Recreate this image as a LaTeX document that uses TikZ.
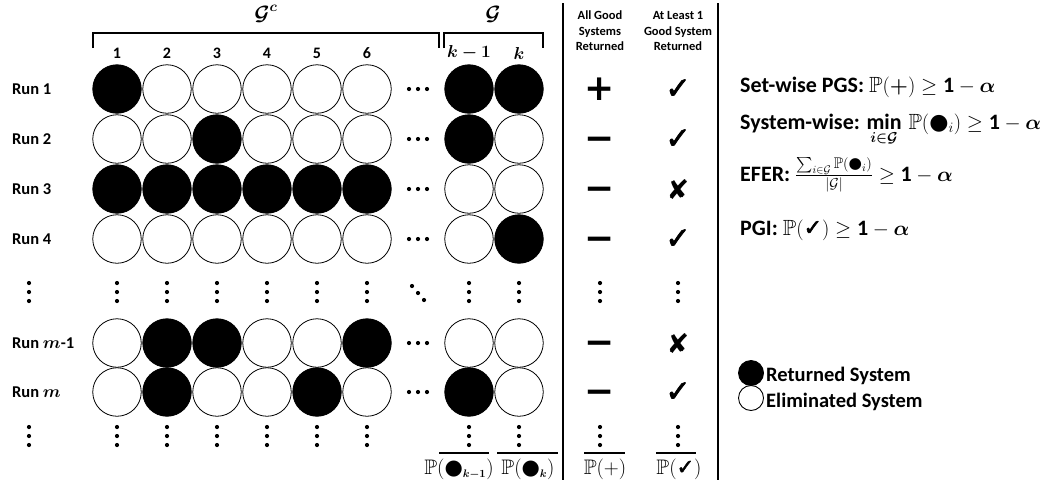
\documentclass[tikz,border=0pt]{standalone}
\usepackage{amsmath,amssymb,bm}
\usepackage{fontspec}
\setmainfont{Carlito}
\newfontfamily\djv{DejaVu Sans}
\newfontfamily\djvfb[FakeBold=2.5]{DejaVu Sans}
\newcommand\blob{\text{\djv ●}}
\newcommand\chk{{\djvfb ✓}}
\newcommand\crs{{\djv ✘}}
\def\colx{{117,167,217,267,317,367,469,519}}
\tikzset{
  circ/.style={circle, draw, line width=0.8pt, minimum size=48.5pt, inner sep=0pt},
  lab/.style={font=\fontsize{16.5}{18}\selectfont\bfseries, anchor=west, inner sep=0pt},
  num/.style={font=\fontsize{16}{18}\selectfont\bfseries, inner sep=0pt},
  hdr/.style={font=\fontsize{12.5}{15.5}\selectfont\bfseries, align=center, inner sep=0pt},
  pm/.style={font=\djv\bfseries\fontsize{36}{36}\selectfont, inner sep=0pt},
  mn/.style={pm, yshift=-5pt},
  ck/.style={font=\fontsize{30}{30}\selectfont, inner sep=0pt},
  xk/.style={font=\fontsize{27}{27}\selectfont, inner sep=0pt},
  rt/.style={font=\fontsize{22}{24}\selectfont\bfseries, anchor=base west, inner sep=0pt},
  bl/.style={font=\fontsize{21}{23}\selectfont, inner sep=0pt},
  brk/.style={line width=2.5pt},
  sep/.style={line width=2pt},
  ovl/.style={line width=1.8pt},
  gl/.style={font=\fontsize{22}{24}\selectfont, inner sep=0pt},
  lgc/.style={circle, draw, line width=0.9pt, minimum size=25pt, inner sep=0pt},
  lgt/.style={font=\fontsize{20.5}{22}\selectfont\bfseries, anchor=west, inner sep=0pt},
}
\newcommand\crow[3]{%
  \foreach \s [count=\i] in {#3}{%
    \pgfmathsetmacro\xx{\colx[\i-1]}%
    \ifnum\s=1 \def\fc{black}\else\def\fc{white}\fi
    \node[circ, fill=\fc] (c#1-\i) at (\xx,#2) {};
  }%
  \foreach \dd in {-9,0,9} \fill (418+\dd,#2) circle (2.1pt);
}
\newcommand\vdt[2]{\foreach \dd in {-9,0,9} \fill (#1,#2+\dd) circle (2.1pt);}
\begin{document}
\begin{tikzpicture}[x=1pt,y=-1pt]
\useasboundingbox (0,0) rectangle (1048,480);
% brackets
\draw[brk] (93,48) -- (93,33) -- (439,33) -- (439,48);
\draw[brk] (444,48) -- (444,33) -- (543,33) -- (543,48);
\node[gl] (gc) at (266,14) {$\bm{\mathcal{G}}^{\bm{c}}$};
\node[gl] (g) at (493,14) {$\bm{\mathcal{G}}$};
% column numbers
\foreach \t [count=\i] in {1,2,3,4,5,6}{
  \pgfmathsetmacro\xx{\colx[\i-1]}
  \node[num] (n\i) at (\xx,53) {\t};
}
\node[num] (n7) at (469,53) {$\bm{k-1}$};
\node[num] (n8) at (519,53) {$\bm{k}$};
% separators
\draw[sep] (563,3) -- (563,480);
\draw[sep] (718,3) -- (718,480);
% headers
\node[hdr] (h1) at (600,31) {All Good\\Systems\\Returned};
\node[hdr] (h2) at (678,31) {At Least 1\\Good System\\Returned};
% rows
\node[lab] (l1) at (12,89) {Run 1};
\node[lab] (l2) at (12,139) {Run 2};
\node[lab] (l3) at (12,189) {Run 3};
\node[lab] (l4) at (12,239) {Run 4};
\node[lab] (lm1) at (12,343) {Run $\bm{m}$-1};
\node[lab] (lm) at (12,392) {Run $\bm{m}$};
\crow{1}{89}{1,0,0,0,0,0,1,1}
\crow{2}{139}{0,0,1,0,0,0,1,0}
\crow{3}{189}{1,1,1,1,1,1,0,0}
\crow{4}{239}{0,0,0,0,0,0,0,1}
\crow{m1}{343}{0,1,1,0,0,1,0,0}
\crow{m}{392}{0,1,0,0,1,0,1,0}
% symbols
\node[pm] (a1) at (600,89) {+};
\node[mn] (a2) at (600,139) {−};
\node[mn] (a3) at (600,189) {−};
\node[mn] (a4) at (600,239) {−};
\node[mn] (am1) at (600,343) {−};
\node[mn] (am) at (600,392) {−};
\node[ck] (b1) at (678,89) {\chk};
\node[ck] (b2) at (678,139) {\chk};
\node[xk] (b3) at (678,190) {\crs};
\node[ck] (b4) at (678,239) {\chk};
\node[xk] (bm1) at (678,344) {\crs};
\node[ck] (bm) at (678,392) {\chk};
% vertical dots
\foreach \xx in {29,117,167,217,267,317,367,469,519,600,678}{
  \vdt{\xx}{292}
  \vdt{\xx}{436}
}
\foreach \dd in {-1,0,1} \fill (418+6*\dd,293+7*\dd) circle (2.1pt);
% bottom labels
\draw[ovl] (439,453) -- (489,453);
\draw[ovl] (497,453) -- (558,453);
\draw[ovl] (584,453) -- (625,453);
\draw[ovl] (656,453) -- (696,453);
\node[bl] (pk1) at (459,469) {$\mathbb{P}(\blob_{\scriptscriptstyle\bm{k-1}})$};
\node[bl] (pk) at (528,469) {$\mathbb{P}(\blob_{\scriptscriptstyle\bm{k}})$};
\node[bl] (pp) at (605,469) {$\mathbb{P}(+)$};
\node[bl] (pc) at (679,469) {$\mathbb{P}(\text{\chk})$};
% right formulas
\node[rt] (f1) at (740,92) {Set-wise PGS: $\mathbb{P}(\bm{+}) \geq \mathbf{1} - \bm{\alpha}$};
\node[rt] (f2) at (740,129) {System-wise: $\mathop{\mathbf{min}}\limits_{\bm{i\in\mathcal{G}}}\, \mathbb{P}(\blob_{i}) \geq \mathbf{1} - \bm{\alpha}$};
\node[rt] (f3) at (740,181) {EFER: $\frac{\sum_{i\in\mathcal{G}}\mathbb{P}(\blob_{i})}{|\mathcal{G}|} \geq \mathbf{1} - \bm{\alpha}$};
\node[rt] (f4) at (740,235) {PGI: $\mathbb{P}(\text{\chk}) \geq \mathbf{1} - \bm{\alpha}$};
% legend
\node[lgc, fill=black] (lg1) at (751,373) {};
\node[lgc, fill=white] (lg2) at (751,398) {};
\node[lgt] (lt1) at (766,376) {Returned System};
\node[lgt] (lt2) at (766,402) {Eliminated System};
\end{tikzpicture}
\end{document}
